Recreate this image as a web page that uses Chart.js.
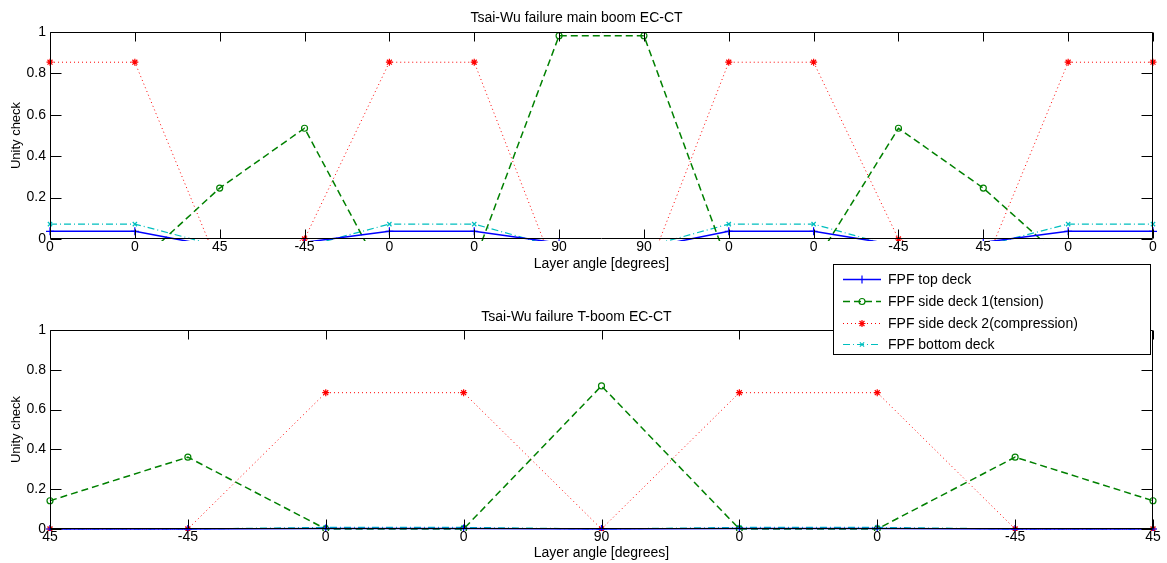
<!DOCTYPE html>
<html>
<head>
<meta charset="utf-8">
<title>Tsai-Wu failure EC-CT</title>
<script src="https://cdn.jsdelivr.net/npm/chart.js@4.4.1/dist/chart.umd.min.js"></script>
<style>
  body { margin: 0; background: #fff; }
  #figure { position: relative; width: 1167px; height: 563px; font-family: 'Liberation Sans', Arial, sans-serif; }
  .panel { position: absolute; left: 0; width: 1167px; }
  #legend { position: absolute; left: 833px; top: 264px; width: 316px; height: 89px; border: 1px solid #000; background: #fff; }
  .legend-row { position: absolute; left: 0; height: 20px; display: flex; align-items: center; font-size: 14px; color: #000; white-space: nowrap; }
  .legend-row canvas { margin-left: 7px; margin-right: 5px; }
</style>
</head>
<body>
<div id="figure">
  <div class="panel" style="top:0;height:280px"><canvas id="mainBoomChart"></canvas></div>
  <div class="panel" style="top:290px;height:273px"><canvas id="tBoomChart"></canvas></div>
  <div id="legend"></div>
</div>
<script>
'use strict';

// main boom, ply sequence along the x axis
const MAIN_ANGLES = ['0', '0', '45', '-45', '0', '0', '90', '90', '0', '0', '-45', '45', '0', '0'];
const MAIN_TOP_DECK = [0.037, 0.037, -0.04, -0.016, 0.037, 0.037, -0.02, -0.045, 0.037, 0.037, -0.03, -0.016, 0.037, 0.037];
const MAIN_SIDE_DECK_1 = [-0.13, -0.13, 0.246, 0.535, -0.23, -0.11, 0.982, 0.982, -0.13, -0.125, 0.535, 0.246, -0.12, -0.12];
const MAIN_SIDE_DECK_2 = [0.854, 0.854, -0.14, 0, 0.854, 0.854, -0.2, -0.2, 0.854, 0.854, 0, -0.14, 0.854, 0.854];
const MAIN_BOTTOM_DECK = [0.072, 0.072, -0.035, -0.037, 0.072, 0.072, -0.042, -0.04, 0.072, 0.072, -0.042, -0.033, 0.072, 0.072];

// T-boom
const T_ANGLES = ['45', '-45', '0', '0', '90', '0', '0', '-45', '45'];
const T_TOP_DECK = [0, 0, 0.003, 0.003, 0, 0.003, 0.003, 0, 0];
const T_SIDE_DECK_1 = [0.142, 0.361, 0, 0, 0.719, 0, 0, 0.361, 0.142];
const T_SIDE_DECK_2 = [0, 0, 0.685, 0.685, 0, 0.685, 0.685, 0, 0];
const T_BOTTOM_DECK = [0, 0, 0.008, 0.008, 0, 0.008, 0.008, 0, 0];

const SERIES_NAMES = [
  'FPF top deck',
  'FPF side deck 1(tension)',
  'FPF side deck 2(compression)',
  'FPF bottom deck',
];
const Y_TICKS = [0, 0.2, 0.4, 0.6, 0.8, 1];

// matlab-ish line specs: '-+', '--o', ':*', '-.x'
const SERIES_STYLES = [
  { color: '#0000ff', width: 1.5, dash: [], point: 'cross', radius: 4 },
  { color: '#008000', width: 1.5, dash: [7, 4], point: 'circle', radius: 3 },
  { color: '#ff0000', width: 1, dash: [1, 3], point: 'star', radius: 3.5 },
  { color: '#00bfbf', width: 1.2, dash: [7, 3, 1, 3], point: 'crossRot', radius: 3 },
];

Chart.defaults.font.family = "'Liberation Sans', Arial, sans-serif";
Chart.defaults.color = '#000';

// box + inward ticks on all four sides, drawn over the lines
const matlabAxes = {
  id: 'matlabAxes',
  afterDatasetsDraw(chart) {
    const { ctx, chartArea, scales } = chart;
    const l = Math.round(chartArea.left) + 0.5;
    const r = Math.round(chartArea.right) - 0.5;
    const t = Math.round(chartArea.top) + 0.5;
    const b = Math.round(chartArea.bottom) - 0.5;
    ctx.save();
    ctx.strokeStyle = '#000';
    ctx.lineWidth = 1;
    ctx.beginPath();
    ctx.rect(l, t, r - l, b - t);
    scales.x.ticks.forEach((tick, i) => {
      const px = Math.round(scales.x.getPixelForTick(i)) + 0.5;
      ctx.moveTo(px, b);
      ctx.lineTo(px, b - 9);
      ctx.moveTo(px, t);
      ctx.lineTo(px, t + 9);
    });
    scales.y.ticks.forEach((tick, i) => {
      const py = Math.round(scales.y.getPixelForTick(i)) + 0.5;
      ctx.moveTo(l, py);
      ctx.lineTo(l + 11, py);
      ctx.moveTo(r, py);
      ctx.lineTo(r - 11, py);
    });
    ctx.stroke();
    ctx.restore();
  },
};

const buildDataset = (values, i) => {
  const style = SERIES_STYLES[i];
  return {
    label: SERIES_NAMES[i],
    data: values,
    borderColor: style.color,
    backgroundColor: style.color,
    borderWidth: style.width,
    borderDash: style.dash,
    pointStyle: style.point,
    pointRadius: style.radius,
    pointBorderColor: style.color,
    pointBackgroundColor: 'rgba(0,0,0,0)',
    pointBorderWidth: 1.2,
    tension: 0,
    fill: false,
    clip: { left: 6, right: 6, top: 6, bottom: 2 },
  };
};

const generateChartConfig = (title, angles, series, titlePadding, xHeight, xTitleBottom) => ({
  type: 'line',
  data: { labels: angles, datasets: series.map(buildDataset) },
  options: {
    responsive: true,
    maintainAspectRatio: false,
    animation: false,
    layout: { padding: { left: 0, right: 14, top: 0, bottom: 0 } },
    plugins: {
      legend: { display: false },
      tooltip: { enabled: false },
      title: {
        display: true,
        text: title,
        color: '#000',
        font: { size: 14, weight: 'normal' },
        padding: titlePadding,
      },
    },
    scales: {
      x: {
        type: 'category',
        grid: { display: false, drawTicks: false },
        border: { display: false },
        ticks: { autoSkip: false, maxRotation: 0, padding: 0, color: '#000', font: { size: 14 } },
        title: {
          display: true,
          text: 'Layer angle [degrees]',
          color: '#000',
          font: { size: 14 },
          padding: { top: 0, bottom: xTitleBottom },
        },
        afterFit: (scale) => { scale.height = xHeight; },
      },
      y: {
        min: 0,
        max: 1,
        grid: { display: false, drawTicks: false },
        border: { display: false },
        ticks: {
          stepSize: 0.2,
          padding: 4,
          color: '#000',
          font: { size: 14 },
          callback: (value) => String(Math.round(value * 10) / 10),
        },
        afterBuildTicks: (scale) => { scale.ticks = Y_TICKS.map((v) => ({ value: v })); },
        title: {
          display: true,
          text: 'Unity check',
          color: '#000',
          font: { size: 13 },
          padding: { top: 9, bottom: 0 },
        },
        afterFit: (scale) => { scale.width = 50; },
      },
    },
  },
  plugins: [matlabAxes],
});

const renderLegend = () => {
  const box = document.getElementById('legend');
  const rowCenters = [14, 35.5, 57.5, 79];
  SERIES_NAMES.forEach((name, i) => {
    const style = SERIES_STYLES[i];
    const row = document.createElement('div');
    row.className = 'legend-row';
    row.style.top = (rowCenters[i] - 10) + 'px';
    const sample = document.createElement('canvas');
    sample.width = 42;
    sample.height = 20;
    const ctx = sample.getContext('2d');
    ctx.strokeStyle = style.color;
    ctx.lineWidth = style.width;
    ctx.setLineDash(style.dash);
    ctx.beginPath();
    ctx.moveTo(2, 10.5);
    ctx.lineTo(40, 10.5);
    ctx.stroke();
    ctx.setLineDash([]);
    ctx.lineWidth = 1.2;
    ctx.fillStyle = 'rgba(0,0,0,0)';
    if (Chart.helpers && Chart.helpers.drawPoint) {
      Chart.helpers.drawPoint(ctx, { pointStyle: style.point, radius: style.radius, borderWidth: 1.2, rotation: 0 }, 21, 10.5);
    }
    const label = document.createElement('span');
    label.textContent = name;
    row.appendChild(sample);
    row.appendChild(label);
    box.appendChild(row);
  });
};

new Chart(
  document.getElementById('mainBoomChart'),
  generateChartConfig(
    'Tsai-Wu failure main boom EC-CT',
    MAIN_ANGLES,
    [MAIN_TOP_DECK, MAIN_SIDE_DECK_1, MAIN_SIDE_DECK_2, MAIN_BOTTOM_DECK],
    { top: 9.6, bottom: 5.6 },
    41,
    7.6
  )
);

new Chart(
  document.getElementById('tBoomChart'),
  generateChartConfig(
    'Tsai-Wu failure T-boom EC-CT',
    T_ANGLES,
    [T_TOP_DECK, T_SIDE_DECK_1, T_SIDE_DECK_2, T_BOTTOM_DECK],
    { top: 18.6, bottom: 4.6 },
    34,
    1.6
  )
);

renderLegend();
</script>
</body>
</html>
